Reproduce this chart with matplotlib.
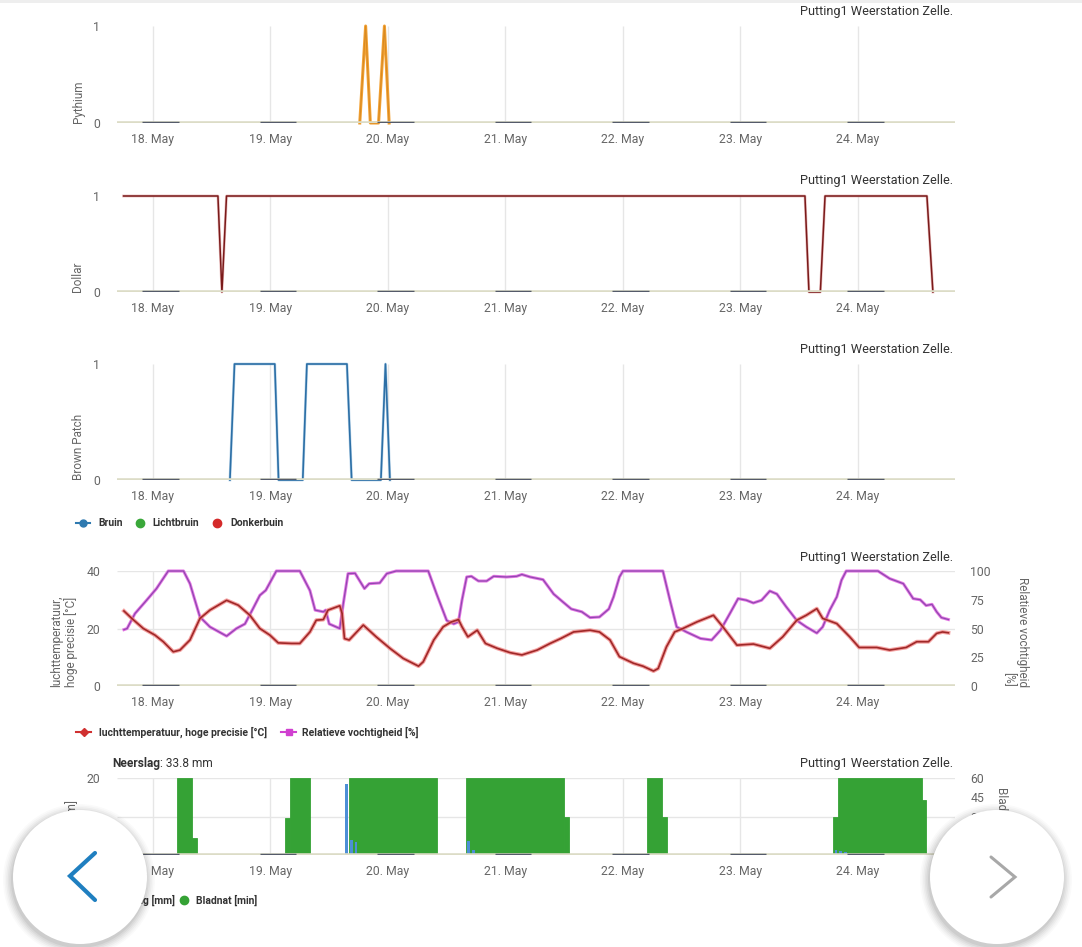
import matplotlib
matplotlib.use('Agg')
import matplotlib.pyplot as plt
import numpy as np
from matplotlib.patches import Circle

plt.rcParams['font.family'] = ['Roboto', 'DejaVu Sans']

W, H = 1082, 947
X0, X1 = 117, 955

# ---------------- data ----------------
day_ticks = [0, 1, 2, 3, 4, 5, 6]
day_labels = ['18. May', '19. May', '20. May', '21. May', '22. May', '23. May', '24. May']
x_range = [-0.306, 6.826]
station = 'Putting1 Weerstation Zelle.'

night_start = [-0.09, 0.91, 1.91, 2.91, 3.91, 4.91, 5.91]
night_end = [0.22, 1.22, 2.22, 3.22, 4.22, 5.22, 6.22]

pythium_t = [-0.25, 1.76, 1.81, 1.85, 1.92, 1.97, 2.01, 6.78]
pythium_v = [0, 0, 1, 0, 0, 1, 0, 0]

dollar_t = [-0.25, 0.553, 0.587, 0.626, 5.549, 5.583, 5.68, 5.72, 6.587, 6.638]
dollar_v = [1, 1, 0, 1, 1, 0, 0, 1, 1, 0]

bruin_t = [-0.25, 0.655, 0.694, 1.037, 1.069, 1.275, 1.31, 1.651, 1.691, 1.94, 1.979, 2.017, 6.78]
bruin_v = [0, 0, 1, 1, 0, 0, 1, 1, 0, 0, 1, 0, 0]

temp_t = [-0.247, -0.18, -0.082, 0.017, 0.088, 0.173, 0.23, 0.315, 0.40, 0.485, 0.627, 0.726,
          0.825, 0.91, 0.995, 1.066, 1.18, 1.25, 1.336, 1.39, 1.45, 1.49, 1.59, 1.61, 1.63, 1.67,
          1.79, 1.90, 2.02, 2.13, 2.26, 2.30, 2.39, 2.47, 2.54, 2.60, 2.63, 2.68, 2.76, 2.83,
          2.93, 3.04, 3.14, 3.27, 3.38, 3.47, 3.58, 3.72, 3.80, 3.89, 3.97, 4.09, 4.17, 4.26,
          4.30, 4.37, 4.44, 4.51, 4.63, 4.77, 4.85, 4.97, 5.11, 5.25, 5.36, 5.48, 5.56, 5.65,
          5.70, 5.82, 5.93, 6.01, 6.16, 6.27, 6.41, 6.50, 6.60, 6.67, 6.72, 6.77]
temp_v = [26.1, 23.5, 20.0, 17.7, 15.4, 11.9, 12.5, 16.0, 23.5, 26.4, 29.8, 28.1,
          24.6, 20.0, 17.7, 15.0, 14.8, 14.8, 18.8, 22.9, 23.1, 26.4, 27.9, 25.2, 16.5, 16.0,
          21.2, 17.1, 13.0, 9.6, 6.9, 8.4, 16.0, 20.6, 22.3, 23.1, 20.6, 17.1, 19.4, 14.8,
          13.1, 11.6, 10.8, 12.5, 14.8, 16.5, 18.8, 19.4, 18.8, 16.0, 10.2, 7.9, 6.9, 5.2,
          6.1, 13.6, 18.8, 20.0, 22.3, 24.6, 20.6, 14.2, 14.6, 13.1, 17.1, 22.9, 24.6, 26.9,
          23.5, 21.7, 17.1, 13.4, 13.4, 12.5, 13.4, 15.4, 15.4, 18.3, 18.8, 18.5]

hum_t = [-0.247, -0.22, -0.153, -0.054, 0.03, 0.13, 0.26, 0.315, 0.357, 0.40, 0.485, 0.627,
         0.71, 0.783, 0.85, 0.91, 0.96, 1.05, 1.25, 1.336, 1.38, 1.45, 1.47, 1.50, 1.59, 1.62,
         1.66, 1.72, 1.80, 1.84, 1.93, 1.99, 2.07, 2.343, 2.414, 2.5, 2.56, 2.6, 2.63, 2.67,
         2.71, 2.77, 2.84, 2.90, 3.01, 3.095, 3.14, 3.21, 3.32, 3.41, 3.49, 3.56, 3.65, 3.72,
         3.80, 3.88, 3.92, 3.97, 4.0, 4.34, 4.40, 4.457, 4.54, 4.66, 4.755, 4.83, 4.91, 4.98,
         5.05, 5.11, 5.18, 5.25, 5.31, 5.39, 5.48, 5.56, 5.65, 5.70, 5.76, 5.82, 5.86, 5.90,
         6.17, 6.27, 6.386, 6.47, 6.53, 6.58, 6.63, 6.67, 6.71, 6.77]
hum_v = [49, 50, 63, 74.6, 84.7, 100, 100, 89, 74.6, 60, 51.4, 43.4,
         50, 54, 67, 78.9, 83.2, 100, 100, 83, 66, 64.5, 66, 54, 50, 71.7,
         97.7, 98, 84.7, 89, 89.6, 97.7, 100, 100, 80, 57, 54, 55.8, 74.6, 94.8,
         95.4, 91.3, 91.3, 95.4, 94.8, 95.4, 97, 94.8, 92.5, 80, 73, 67, 64.5, 59.5,
         60, 67, 77.5, 94.8, 100, 100, 74.6, 51.4, 47, 41.3, 40, 48.5, 63, 76,
         74.6, 72.2, 74.6, 82.6, 80, 68.8, 57, 51.4, 46, 51.4, 66, 77.5, 92, 100,
         100, 93.4, 89, 76, 75, 70, 71, 64.5, 59.5, 57.8]

rain_h = [39, 40, 41, 64, 65, 139, 140, 141]
rain_mm = [18.5, 4.0, 3.5, 3.6, 1.2, 1.2, 1.0, 0.8]

wet_start_h = [5, 8, 27, 28, 40, 64, 84, 101, 104, 139, 140, 157]
wet_end_h = [8, 9, 28, 32, 58, 84, 85, 104, 105, 140, 157, 158]
wet_min = [60, 13, 29, 60, 60, 60, 30, 60, 30, 30, 60, 43]

# ---------------- figure ----------------
fig = plt.figure(figsize=(W / 100, H / 100), dpi=100)
fig.patch.set_facecolor('white')

GRID = '#e6e6e6'
TICKC = '#666666'
BASEC = '#dcdcc6'
NIGHTC = '#555b6a'
TS = 8.8
BASE_LW = 2.6
NIGHT_LW = 2.5


def hide_flat_zero(values):
    """Points at 0 whose neighbours are also 0 lie on the axis line; do not draw them."""
    v = np.asarray(values, dtype=float)
    out = v.copy()
    for i in range(len(v)):
        prev_zero = i == 0 or v[i - 1] == 0
        next_zero = i == len(v) - 1 or v[i + 1] == 0
        if v[i] == 0 and prev_zero and next_zero:
            out[i] = np.nan
    return out


def panel(top, bot):
    ax = fig.add_axes([X0 / W, 1 - bot / H, (X1 - X0) / W, (bot - top) / H])
    ax.set_xlim(x_range)
    for s in ax.spines.values():
        s.set_visible(False)
    ax.patch.set_visible(False)
    ax.set_xticks(day_ticks)
    ax.set_xticklabels(day_labels)
    ax.tick_params(axis='x', length=0, pad=7.5, labelsize=TS, labelcolor=TICKC)
    ax.tick_params(axis='y', length=0, pad=12, labelsize=TS, labelcolor=TICKC)
    return ax


def vgrid(ax, ymin, ymax):
    ax.vlines(day_ticks, ymin, ymax, color=GRID, lw=1, zorder=0)


def baseline(ax, y=0):
    ax.axhline(y, color=BASEC, lw=BASE_LW, zorder=6)
    ax.hlines([y] * len(night_start), night_start, night_end, color=NIGHTC, lw=NIGHT_LW, zorder=7)


# Panel 1: Pythium
ax1 = panel(26, 123)
ax1.set_ylim(0, 1)
ax1.set_yticks([0, 1])
vgrid(ax1, 0, 1)
py_draw = hide_flat_zero(pythium_v)
ax1.plot(pythium_t, py_draw, color='#f3a235', lw=2.2, clip_on=False, zorder=3)
ax1.plot(pythium_t, py_draw, color='#d98a20', lw=0.8, clip_on=False, zorder=3)
baseline(ax1)

# Panel 2: Dollar
ax2 = panel(196, 292)
ax2.set_ylim(0, 1)
ax2.set_yticks([0, 1])
vgrid(ax2, 0, 1)
ax2.plot(dollar_t, dollar_v, color='#d07070', lw=2.0, alpha=0.45, clip_on=False, zorder=3)
ax2.plot(dollar_t, dollar_v, color='#7a1a1a', lw=1.1, clip_on=False, zorder=3)
baseline(ax2)

# Panel 3: Brown Patch
ax3 = panel(364, 480)
ax3.set_ylim(0, 1)
ax3.set_yticks([0, 1])
vgrid(ax3, 0, 1)
br_draw = hide_flat_zero(bruin_v)
ax3.plot(bruin_t, br_draw, color='#8ab8dc', lw=2.0, alpha=0.55, clip_on=False, zorder=3)
ax3.plot(bruin_t, br_draw, color='#2c6fa6', lw=1.2, clip_on=False, zorder=3)
baseline(ax3)

# Panel 4: temperature / humidity
ax4 = panel(571, 686)
ax4.set_ylim(0, 40)
ax4.set_yticks([0, 20, 40])
vgrid(ax4, 0, 40)
ax4.hlines([20, 40], x_range[0], x_range[1], color=GRID, lw=1, zorder=0)
ax4r = ax4.twinx()
ax4r.set_ylim(0, 100)
ax4r.set_yticks([0, 25, 50, 75, 100])
for s in ax4r.spines.values():
    s.set_visible(False)
ax4r.tick_params(axis='y', length=0, pad=11, labelsize=TS, labelcolor=TICKC)
ax4r.plot(hum_t, hum_v, color='#e05ee0', lw=2.2, alpha=0.85, clip_on=False, zorder=3)
ax4r.plot(hum_t, hum_v, color='#9048b0', lw=0.9, clip_on=False, zorder=3)
temp_on_right = [v * 2.5 for v in temp_v]  # same pixel scale: 40 degC <-> 100 %
ax4r.plot(temp_t, temp_on_right, color='#f07a7a', lw=2.8, alpha=0.7, clip_on=False, zorder=4)
ax4r.plot(temp_t, temp_on_right, color='#a02828', lw=1.2, clip_on=False, zorder=4)
ax4r.axhline(0, color=BASEC, lw=BASE_LW, zorder=6)
ax4r.hlines([0] * len(night_start), night_start, night_end, color=NIGHTC, lw=NIGHT_LW, zorder=7)

# Panel 5: rain / leaf wetness
ax5 = panel(778, 855)
ax5.set_ylim(0, 20)
ax5.set_yticks([0, 10, 20])
ax5w = ax5.twinx()
ax5w.set_ylim(0, 60)
ax5w.set_yticks([0, 15, 30, 45, 60])
for s in ax5w.spines.values():
    s.set_visible(False)
ax5w.tick_params(axis='y', length=0, pad=11, labelsize=TS, labelcolor=TICKC)
ax5.vlines(day_ticks, 0, 20, color=GRID, lw=1, zorder=0)
ax5.hlines([10, 20], x_range[0], x_range[1], color=GRID, lw=1, zorder=0)
ax5.bar([h / 24 for h in wet_start_h], [m / 3 for m in wet_min],
        width=[(e - s) / 24 for s, e in zip(wet_start_h, wet_end_h)],
        align='edge', color='#35a235', edgecolor='#35a235', lw=0.6, zorder=2)
ax5w.bar([(h + 0.5) / 24 for h in rain_h], [v * 3 for v in rain_mm], width=0.55 / 24,
         color='#4d8fd6', lw=0, zorder=3)
ax5w.axhline(0, color=BASEC, lw=BASE_LW, zorder=6)
ax5w.hlines([0] * len(night_start), night_start, night_end, color=NIGHTC, lw=NIGHT_LW, zorder=7)

# ---------------- overlay (texts, nav buttons) ----------------
ov = fig.add_axes([0, 0, 1, 1])
ov.set_xlim(0, W)
ov.set_ylim(H, 0)
ov.axis('off')
ov.patch.set_visible(False)

for ty in [11, 180, 349, 557, 763]:
    ov.text(953, ty, station, ha='right', va='center', fontsize=9.2, color='#333333')

LAB = dict(fontsize=8.5, color=TICKC)
ov.text(78, 123, 'Pythium', rotation=90, ha='center', va='bottom', **LAB)
ov.text(78, 292, 'Dollar', rotation=90, ha='center', va='bottom', **LAB)
ov.text(78, 480, 'Brown Patch', rotation=90, ha='center', va='bottom', **LAB)
ov.text(64, 687, 'luchttemperatuur,\nhoge precisie [°C]', rotation=90, ha='center', va='bottom',
        multialignment='left', linespacing=1.1, **LAB)
ov.text(1016, 687, 'Relatieve vochtigheid\n[%]', rotation=270, ha='center', va='bottom',
        multialignment='right', linespacing=1.1, **LAB)
ov.text(72, 800, 'Neerslag [mm]', rotation=90, ha='center', va='top', **LAB)
ov.text(1001, 855, 'Bladnat [min]', rotation=270, ha='center', va='bottom', **LAB)

t_bold = ov.text(112, 763, 'Neerslag', ha='left', va='center', fontsize=8.6,
                 fontweight='bold', color='#333333')
renderer = fig.canvas.get_renderer()
bb = t_bold.get_window_extent(renderer=renderer)
ov.text(bb.x1, 763, ': 33.8 mm', ha='left', va='center', fontsize=8.6, color='#333333')

LEG = dict(ha='left', va='center', fontsize=7.5, fontweight='bold', color='#333333')
# legend panel 3
ov.plot([76, 90], [523, 523], color='#2f7ab0', lw=1.5)
ov.plot([83], [523], marker='o', ms=5, color='#2f7ab0')
ov.text(98, 523, 'Bruin', **LEG)
ov.plot([140], [523], marker='o', ms=6, color='#3aa83a')
ov.text(152, 523, 'Lichtbruin', **LEG)
ov.plot([217], [523], marker='o', ms=6, color='#d42a2a')
ov.text(230, 523, 'Donkerbuin', **LEG)
# legend panel 4
ov.plot([76, 91], [732, 732], color='#d03030', lw=1.5)
ov.plot([84], [732], marker='D', ms=4.5, color='#d03030')
ov.text(99, 732, 'luchttemperatuur, hoge precisie [°C]', **LEG)
ov.plot([281, 296], [732, 732], color='#d040d0', lw=1.5)
ov.plot([289], [732], marker='s', ms=4.5, color='#d040d0')
ov.text(302, 732, 'Relatieve vochtigheid [%]', **LEG)
# legend panel 5
ov.plot([94], [900], marker='o', ms=6, color='#4d8fd6')
ov.text(175, 900, 'Neerslag [mm]', ha='right', va='center', fontsize=7.5,
        fontweight='bold', color='#333333')
ov.plot([184], [900], marker='o', ms=6, color='#35a235')
ov.text(196, 900, 'Bladnat [min]', **LEG)

# top shadow strip
ov.fill_between([0, W], [0, 0], [3, 3], color='#eeeeee', lw=0)

# navigation buttons
for (cx, cy) in [(80, 877), (997, 877)]:
    for i, a in enumerate([0.02, 0.025, 0.03, 0.035, 0.045, 0.05]):
        ov.add_patch(Circle((cx - 1, cy + 3), 67 + 9 - i * 1.6, color='black', alpha=a, lw=0, zorder=20))
    ov.add_patch(Circle((cx, cy), 67, color='white', lw=0, zorder=21))

ov.plot([95, 70, 95], [853, 876, 900], color='#1f7fc0', lw=3.0, solid_capstyle='round',
        solid_joinstyle='miter', zorder=22)
ov.plot([991, 1015, 991], [857, 877, 897], color='#a8a8a8', lw=2.2, solid_capstyle='round',
        solid_joinstyle='miter', zorder=22)

fig.savefig('out.png', dpi=100, facecolor='white')
